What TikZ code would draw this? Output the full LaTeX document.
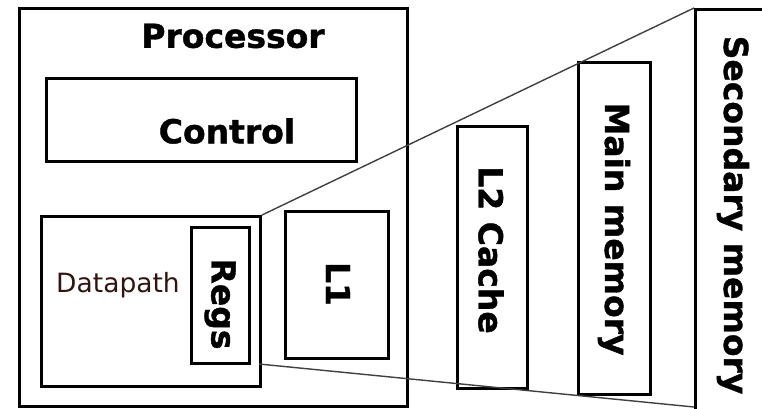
\documentclass[tikz,border=0pt]{standalone}
\usepackage{fontspec}
\setmainfont{DejaVu Sans}
\newfontfamily\heavy[FakeBold=1.2]{DejaVu Sans}
\definecolor{dpcol}{RGB}{50,20,15}
\begin{document}
\begin{tikzpicture}[x=1pt,y=-1pt,
  box/.style={draw=black,line width=3pt,inner sep=0pt,anchor=north west},
  lbl/.style={font=\heavy\bfseries\fontsize{33}{33}\selectfont,inner sep=0pt},
  vlbl/.style={lbl,rotate=-90},
  link/.style={draw=black!75,line width=1.4pt}]
\useasboundingbox (0,0) rectangle (762,408);
\clip (0,0) rectangle (762,408);
% boxes
\node[box,minimum width=388pt,minimum height=398pt] (proc) at (18,7) {};
\node[box,minimum width=310pt,minimum height=83pt] (ctrl) at (45,77) {};
\node[box,minimum width=219pt,minimum height=170pt] (dp) at (40,215) {};
\node[box,minimum width=58pt,minimum height=136pt] (regs) at (190,226) {};
\node[box,minimum width=103pt,minimum height=147pt] (l1) at (284,210) {};
\node[box,minimum width=70pt,minimum height=262pt] (l2) at (456,125) {};
\node[box,minimum width=72pt,minimum height=332pt] (mm) at (577,61) {};
\node[box,minimum width=90pt,minimum height=420pt] (sec) at (694,8) {};
% labels
\node[lbl] (tproc) at (233,36) {Processor};
\node[lbl] (tctrl) at (227,131) {Control};
\node[font=\fontsize{26.5}{26.5}\selectfont,text=dpcol,inner sep=0pt] (tdp) at (118,285) {Datapath};
\node[vlbl] (tregs) at (220,304) {Regs};
\node[vlbl] (tl1) at (338,284) {L1};
\node[vlbl] (tl2) at (491,250) {L2 Cache};
\node[vlbl] (tmm) at (614,229) {Main memory};
\node[vlbl] (tsec) at (733,215) {Secondary memory};
% connectors
\coordinate (dpb) at (259,364);
\coordinate (secb) at (694,407);
\draw[link] (dp.north east) -- (sec.north west);
\draw[link] (dpb) -- (secb);
\end{tikzpicture}
\end{document}
